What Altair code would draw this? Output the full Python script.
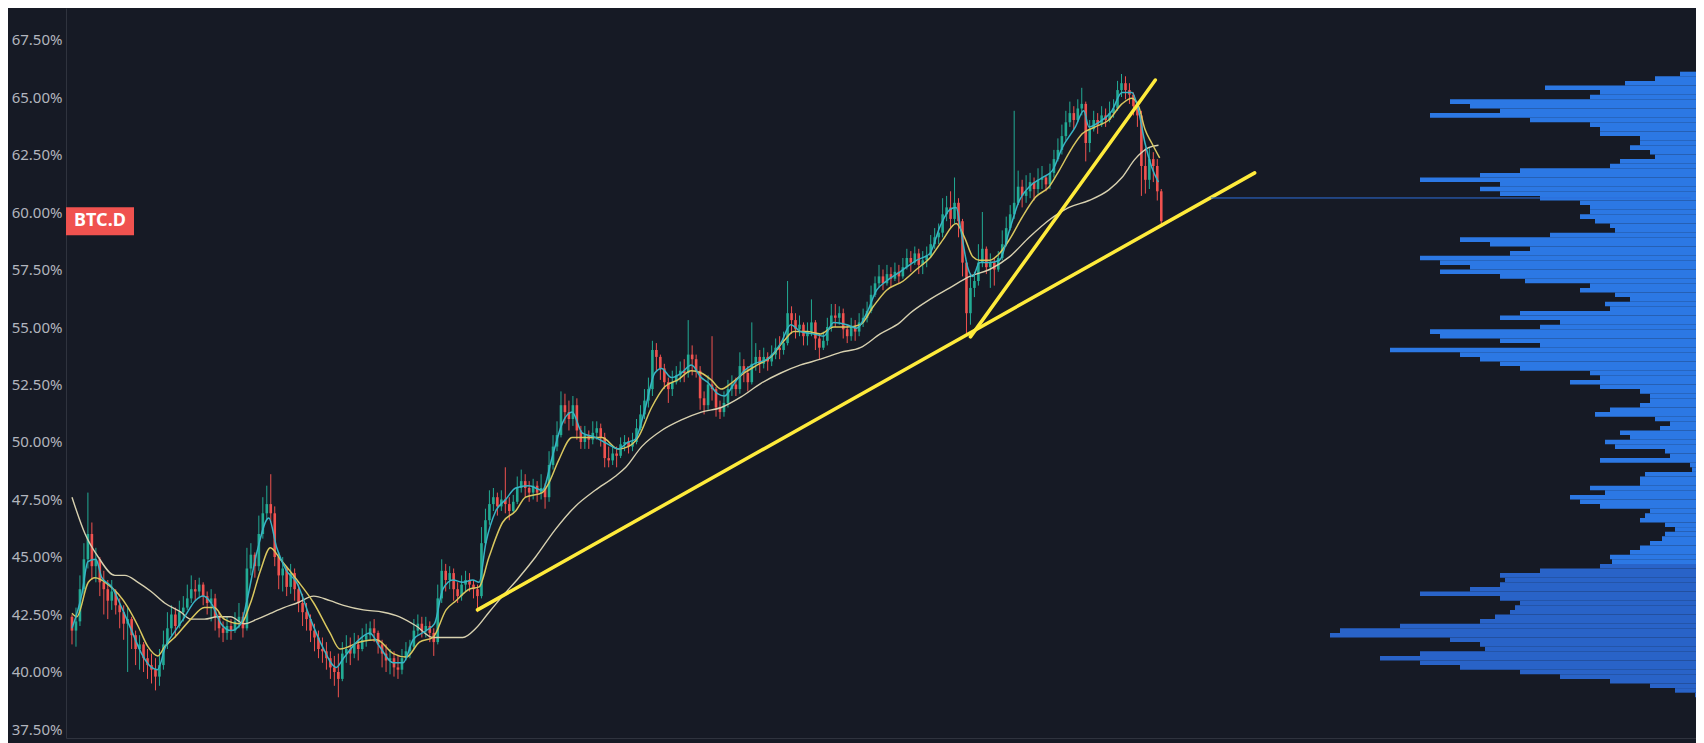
import altair as alt
import pandas as pd

# ---------------- data ----------------
FIRST_OPEN = 42.4

CLOSE = [
    41.8, 42.2, 43.6, 44.9, 46.0, 44.6, 44.9, 43.9, 43.6, 43.1,
    43.5, 42.9, 42.6, 42.1, 42.3, 41.6, 41.0, 41.2, 40.6, 40.3,
    40.1, 39.8, 40.3, 41.2, 41.9, 42.5, 42.0, 42.6, 42.8, 43.2,
    43.6, 43.5, 43.8, 43.3, 43.0, 43.2, 42.4, 41.9, 41.7, 42.0,
    41.8, 42.2, 42.4, 41.9, 44.5, 45.1, 44.6, 46.0, 46.9, 47.3,
    46.9, 45.0, 44.2, 44.5, 43.7, 44.3, 43.6, 43.0, 42.6, 42.3,
    41.8, 41.5, 41.0, 40.9, 40.6, 40.2, 40.0, 39.7, 40.8, 41.0,
    40.8, 41.2, 41.0, 41.4, 41.6, 41.9, 41.7, 41.2, 40.8, 40.5,
    40.6, 40.2, 40.1, 40.6, 40.9, 41.1, 41.8, 42.1, 41.8, 42.0,
    41.7, 41.3, 43.2, 44.4, 44.0, 44.3, 43.6, 43.3, 43.8, 44.0,
    43.8, 43.6, 43.3, 45.6, 46.6, 47.3, 47.6, 47.2, 47.5, 47.3,
    47.0, 47.4, 48.0, 48.3, 48.0, 47.8, 48.1, 47.8, 48.0, 47.6,
    49.0, 49.8, 50.3, 51.6, 51.3, 51.0, 51.6, 50.5, 50.0, 50.3,
    50.1, 50.4, 50.6, 50.2, 49.3, 49.2, 49.5, 49.4, 49.9, 50.0,
    49.8, 50.0, 50.6, 51.2, 51.8, 52.3, 54.0, 53.7, 53.2, 52.6,
    52.3, 52.6, 52.9, 53.1, 53.0, 53.8, 53.6, 53.1, 51.9, 51.6,
    52.5, 52.3, 51.5, 51.3, 51.7, 52.3, 52.5, 52.3, 53.3, 53.0,
    52.6, 53.4, 53.7, 53.4, 53.7, 53.5, 53.8, 54.1, 54.0, 54.3,
    55.6, 55.3, 54.9, 55.1, 54.6, 54.8, 55.2, 54.5, 54.1, 54.4,
    55.0, 55.5, 55.4, 55.6, 54.9, 54.6, 55.0, 54.8, 55.2, 55.4,
    55.7, 56.4, 56.9, 57.2, 56.9, 57.3, 57.1, 57.4, 57.2, 57.6,
    58.0, 57.8, 58.2, 57.7, 57.9, 58.1, 58.6, 58.9, 59.1, 59.9,
    60.2, 59.7, 60.4, 59.6, 57.8, 55.6, 56.7, 57.0, 57.8, 58.4,
    57.6, 57.8, 57.5, 58.0, 58.6, 59.3, 59.9, 60.4, 61.1, 60.7,
    60.9, 61.3, 61.0, 61.4, 61.5, 61.2, 61.7, 62.3, 62.7, 63.3,
    63.9, 64.3, 64.0, 64.5, 64.7, 63.0, 63.6, 64.0, 63.8, 64.2,
    64.0, 64.3, 64.5, 65.3, 65.6, 65.3, 65.1, 64.6, 64.2, 62.0,
    61.4, 62.3, 62.0, 60.9, 59.6,
]

HIGH = [
    42.5, 42.8, 44.2, 45.6, 47.8, 46.5, 45.4, 45.0, 44.4, 44.0,
    44.0, 43.6, 43.2, 42.9, 42.8, 42.4, 41.8, 41.6, 41.3, 41.0,
    40.8, 40.6, 41.0, 41.8, 42.6, 42.9, 42.8, 43.1, 43.3, 43.8,
    44.2, 44.0, 44.1, 43.9, 43.5, 43.6, 43.4, 42.6, 42.2, 42.4,
    42.3, 42.6, 43.0, 42.6, 45.4, 45.6, 45.2, 46.8, 47.6, 48.1,
    48.6, 47.2, 45.2, 45.0, 44.6, 44.7, 44.5, 43.8, 43.4, 43.0,
    42.5, 42.1, 41.8, 41.5, 41.3, 40.9, 40.7, 40.8, 41.3, 41.6,
    41.5, 41.7, 41.6, 41.9, 42.1, 42.2, 42.3, 41.8, 41.4, 41.2,
    41.0, 40.9, 40.7, 41.0, 41.3, 41.4, 42.3, 42.5, 42.4, 42.4,
    42.2, 41.9, 43.8, 44.9, 44.7, 44.6, 44.5, 43.9, 44.2, 44.4,
    44.3, 44.0, 43.8, 46.3, 47.1, 47.9, 48.0, 47.8, 47.9, 48.9,
    47.6, 47.7, 48.5, 48.8, 48.6, 48.3, 48.4, 48.3, 48.6, 48.2,
    49.6, 50.3, 50.9, 52.2, 52.1, 51.8, 52.0, 51.9, 50.7, 50.7,
    50.5, 50.9, 50.9, 50.8, 50.4, 49.8, 49.8, 49.8, 50.2, 50.3,
    50.2, 50.4, 51.0, 51.6, 52.3, 52.8, 54.4, 54.3, 53.8, 53.4,
    52.8, 53.1, 53.3, 53.5, 53.6, 55.3, 54.2, 53.8, 53.3, 52.2,
    52.9, 54.6, 52.4, 51.8, 52.2, 52.7, 52.9, 52.8, 53.9, 53.6,
    53.3, 55.2, 54.3, 54.0, 54.1, 53.9, 54.2, 54.5, 54.6, 54.8,
    57.0, 55.9, 55.6, 55.5, 55.2, 55.2, 56.2, 55.3, 54.7, 54.8,
    55.4, 56.0, 56.0, 55.9, 55.8, 55.1, 55.4, 55.3, 55.6, 55.8,
    56.1, 56.8, 57.2, 57.7, 57.5, 57.7, 57.6, 57.8, 57.7, 58.0,
    58.4, 58.3, 58.5, 58.4, 58.3, 58.5, 59.0, 59.3, 59.5, 60.6,
    60.7, 60.9, 61.5, 60.6, 59.7, 57.9, 57.3, 57.4, 58.6, 60.0,
    58.5, 58.2, 58.0, 58.3, 59.2, 59.8, 60.3, 64.4, 61.8, 61.4,
    61.6, 61.7, 61.5, 61.9, 62.0, 61.6, 62.1, 62.7, 63.2, 63.8,
    64.4, 64.8, 64.6, 64.9, 65.4, 64.8, 64.0, 64.4, 64.3, 64.6,
    64.5, 64.8, 64.9, 65.7, 66.0, 65.9, 65.6, 65.2, 64.8, 64.4,
    62.8, 62.8, 62.6, 62.3, 61.0,
]

LOW = [
    41.2, 41.1, 42.0, 43.4, 44.5, 44.0, 43.9, 43.3, 42.5, 42.3,
    42.7, 42.5, 41.9, 41.4, 40.0, 41.0, 40.3, 40.1, 40.0, 39.7,
    39.5, 39.2, 39.4, 40.1, 41.0, 41.6, 41.5, 41.9, 42.2, 42.7,
    43.0, 43.1, 43.2, 42.9, 42.5, 42.2, 41.8, 41.5, 41.3, 41.4,
    41.4, 41.7, 41.9, 41.5, 41.8, 44.2, 44.1, 44.4, 45.8, 46.6,
    46.5, 44.6, 43.6, 43.5, 43.3, 43.4, 43.1, 42.6, 42.0, 41.8,
    41.3, 40.9, 40.6, 40.4, 40.1, 39.7, 39.4, 38.9, 39.6, 40.4,
    40.3, 40.6, 40.5, 40.9, 41.1, 41.4, 41.3, 40.8, 40.2, 40.0,
    39.9, 39.8, 39.7, 39.9, 40.5, 40.6, 41.0, 41.6, 41.5, 41.5,
    41.3, 40.7, 41.2, 43.0, 43.5, 43.6, 43.1, 43.0, 43.1, 43.5,
    43.5, 43.2, 42.6, 43.2, 45.5, 46.4, 47.0, 46.8, 47.0, 46.9,
    46.6, 46.9, 47.3, 47.8, 47.6, 47.4, 47.5, 47.4, 47.5, 47.1,
    47.4, 48.8, 49.6, 50.2, 50.8, 50.5, 50.7, 50.1, 49.7, 49.7,
    49.7, 49.9, 50.1, 49.8, 48.9, 48.9, 49.0, 48.9, 49.3, 49.6,
    49.5, 49.6, 49.9, 50.5, 51.0, 51.5, 52.0, 53.1, 52.7, 52.3,
    51.7, 52.0, 52.5, 52.6, 52.6, 52.8, 52.9, 52.8, 51.4, 51.2,
    51.4, 51.8, 51.1, 51.0, 51.1, 51.5, 52.0, 52.0, 52.1, 52.6,
    52.2, 52.5, 53.1, 53.0, 53.2, 53.1, 53.3, 53.6, 53.6, 53.8,
    54.2, 54.7, 54.5, 54.6, 54.2, 54.2, 54.6, 54.0, 53.6, 54.0,
    54.2, 54.8, 55.0, 55.1, 54.5, 54.3, 54.4, 54.4, 54.6, 55.0,
    55.2, 55.6, 56.3, 56.7, 56.6, 56.8, 56.7, 57.0, 56.9, 57.1,
    57.5, 57.4, 57.7, 57.3, 57.3, 57.6, 58.0, 58.4, 58.6, 58.9,
    59.6, 59.3, 59.5, 58.9, 57.2, 54.7, 55.1, 56.3, 56.8, 57.6,
    57.3, 56.7, 56.8, 57.4, 57.9, 58.5, 59.2, 59.7, 60.3, 60.2,
    60.4, 60.6, 60.5, 60.8, 61.0, 60.9, 61.0, 61.5, 62.2, 62.5,
    63.1, 63.7, 63.6, 63.9, 64.2, 62.2, 62.6, 63.5, 63.4, 63.7,
    63.7, 63.9, 64.1, 64.4, 65.0, 64.9, 64.7, 64.2, 63.7, 60.7,
    60.8, 61.0, 61.3, 60.5, 59.4,
]

# moving averages (candle index, value)
FAST_IDX = [0, 2.5, 4, 6, 7.5, 10, 12.5, 15, 17.5, 20, 21.5, 23.5, 26, 28, 31, 33, 35, 37.5, 40, 42.5,
            44, 46.5, 49.5, 51.5, 54, 56.5, 60, 63, 66.5, 68.3, 71.6, 74.9, 77.4, 80.8, 83.3, 85.8, 89.1,
            91.2, 93.3, 95.8, 98.3, 100.8, 102.4, 104.1, 106.6, 109.1, 111.6, 114.9, 118.3, 120.8, 123.3,
            125.8, 128.3, 131.6, 134.9, 137.4, 139.9, 141.6, 144.1, 146.6, 148.3, 150.8, 153.3, 155.8,
            158.3, 159.9, 162.4, 164.1, 166.6, 169.1, 171.6, 174.9, 178.3, 180.8, 183.3, 186.6, 189.1,
            191.6, 194.9, 197.4, 199.9, 202.4, 204.9, 208.3, 212.4, 215.8, 218.3, 220.8, 222.4, 223.7,
            225.3, 226.6, 228.3, 230.8, 233.3, 235.8, 238.3, 240.8, 244.1, 246.6, 249.1, 252.4, 254.5,
            255.8, 258.3, 261.6, 264.1, 266.6, 268.3, 269.9, 271.6, 273.3]
FAST_VAL = [41.9, 43.4, 44.8, 44.9, 44.1, 43.7, 42.8, 41.8, 40.8, 40.2, 40.1, 41.1, 41.8, 42.3, 43.1, 43.3,
            43.0, 42.1, 41.8, 42.1, 43.1, 45.2, 46.7, 45.4, 44.4, 43.9, 42.3, 41.1, 40.2, 40.6, 41.3, 41.7,
            41.1, 40.4, 40.4, 41.4, 41.8, 42.1, 43.6, 44.0, 43.9, 44.0, 43.9, 45.6, 47.0, 47.5, 48.0, 48.1,
            47.9, 49.35, 50.8, 51.3, 50.4, 50.2, 49.9, 49.7, 50.0, 50.1, 51.4, 53.0, 53.2, 52.8, 53.0, 53.35,
            52.8, 52.6, 52.1, 52.0, 52.55, 53.1, 53.4, 53.6, 54.3, 55.1, 54.8, 54.7, 54.6, 55.2, 55.1, 54.95,
            55.6, 56.6, 57.0, 57.4, 57.9, 58.2, 59.35, 60.1, 60.2, 59.1, 57.6, 57.2, 57.8, 57.8, 57.9, 59.2,
            60.5, 61.1, 61.5, 61.8, 62.8, 63.7, 64.4, 63.7, 63.9, 64.4, 65.2, 65.2, 64.4, 63.0, 61.95, 61.3]

MID_IDX = [0, 1.2, 4.1, 5.8, 9.1, 11.6, 14.1, 16.6, 19.1, 21.6, 23.3, 25.8, 29.9, 33.3, 35.8, 38.3, 42.4,
           44.9, 47.4, 49.9, 52.4, 56.6, 60.8, 64.9, 67.4, 72.4, 76.6, 80.8, 84.1, 87.4, 90.8, 94.1, 96.6,
           99.9, 102.4, 104.9, 108.3, 111.6, 114.1, 118.3, 119.9, 122.4, 125.8, 129.1, 133.3, 137.4, 139.9,
           142.4, 145.8, 149.1, 152.4, 155.8, 158.3, 160.8, 163.3, 165.8, 169.1, 172.4, 175.8, 179.1,
           181.6, 184.9, 188.3, 191.6, 194.9, 198.3, 201.6, 204.9, 209.1, 212.4, 215.8, 219.1, 222.4,
           224.5, 226.6, 228.3, 230.8, 233.3, 235.8, 239.1, 242.4, 245.8, 248.3, 251.6, 254.1, 257.4,
           260.8, 264.1, 266.6, 268.3, 269.9, 271.6, 273.6]
MID_VAL = [42.55, 42.4, 43.9, 44.1, 43.8, 43.4, 42.8, 42.0, 41.1, 40.7, 41.1, 41.5, 42.3, 42.8, 42.8, 42.3,
           42.1, 43.0, 44.4, 45.4, 44.9, 44.0, 43.0, 41.7, 41.0, 41.3, 41.4, 40.8, 40.65, 41.3, 41.5, 42.7,
           43.1, 43.6, 43.7, 45.0, 46.5, 47.0, 47.6, 47.8, 48.2, 49.2, 50.2, 50.2, 50.2, 49.7, 49.8, 50.2,
           51.5, 52.4, 52.7, 53.1, 53.0, 52.7, 52.3, 52.55, 53.0, 53.35, 53.7, 54.4, 54.8, 54.8, 54.7, 55.0,
           55.0, 55.1, 55.9, 56.6, 57.0, 57.5, 58.0, 58.8, 59.5, 58.9, 58.05, 57.9, 57.9, 58.2, 58.8, 59.8,
           60.65, 61.1, 61.8, 62.8, 63.4, 63.7, 64.0, 64.7, 64.95, 64.6, 63.6, 63.0, 62.35]

LONG_IDX = [0, 3.3, 6.6, 10.8, 13.3, 16.6, 19.9, 23.3, 27.4, 29.9, 33.3, 36.6, 39.9, 43.3, 46.6, 49.9, 53.3,
            56.6, 60.8, 64.9, 68.3, 73.3, 78.3, 82.4, 86.6, 90.8, 94.9, 98.3, 101.6, 104.9, 108.3, 112.4,
            116.6, 121.6, 126.6, 131.6, 136.6, 139.3, 143.3, 148.3, 153.3, 158.3, 163.3, 168.3, 173.3,
            178.3, 183.3, 188.3, 193.3, 198.3, 203.3, 208.3, 210.8, 215.8, 220.8, 225.8, 230.8, 235.8,
            240.8, 245.8, 250.8, 255.8, 260.8, 264.1, 267.4, 270.8, 273.3]
LONG_VAL = [47.6, 46.0, 45.0, 44.2, 44.2, 43.9, 43.5, 43.0, 42.6, 42.3, 42.3, 42.4, 42.4, 42.1, 42.3, 42.55,
            42.8, 43.0, 43.3, 43.1, 42.9, 42.7, 42.6, 42.4, 42.0, 41.5, 41.5, 41.5, 41.9, 42.6, 43.3, 44.1,
            45.0, 46.2, 47.2, 47.9, 48.5, 48.9, 49.8, 50.5, 50.96, 51.3, 51.5, 51.96, 52.55, 53.0, 53.35,
            53.6, 53.9, 54.1, 54.7, 55.2, 55.6, 56.2, 56.7, 57.2, 57.5, 58.05, 58.9, 59.65, 60.2, 60.5,
            60.96, 61.5, 62.3, 62.8, 62.9]

# hand-drawn trend lines (candle index, value)
TREND1_IDX = [102, 297.5]
TREND1_VAL = [42.70, 61.70]
TREND2_IDX = [226, 272.5]
TREND2_VAL = [54.57, 65.74]

# volume profile: rows of 0.2 %, from 66.0 % down to 39.0 %
VP_TOP_CENTER = 66.0
VP_STEP = 0.2
VP_VOL = [
    24, 49, 79, 159, 104, 114, 254, 234, 204, 274,
    174, 114, 104, 104, 64, 64, 74, 54, 49, 84,
    94, 184, 224, 284, 204, 224, 204, 164, 124, 114,
    114, 124, 109, 94, 89, 154, 244, 214, 174, 194,
    284, 264, 234, 264, 204, 179, 114, 124, 89, 74,
    99, 94, 184, 204, 144, 164, 274, 264, 204, 164,
    314, 244, 224, 204, 184, 114, 104, 134, 104, 64,
    54, 54, 64, 94, 109, 49, 34, 44, 84, 74,
    99, 89, 39, 34, 104, 14, 12, 59, 64, 64,
    114, 99, 134, 124, 104, 54, 59, 64, 39, 29,
    39, 42, 54, 64, 74, 94, 92, 104, 164, 204,
    199, 204, 234, 284, 204, 184, 189, 194, 209, 224,
    304, 364, 374, 254, 224, 219, 284, 324, 284, 244,
    184, 144, 94, 54, 29, 9,
]
VALUE_AREA_SPLIT = 44.7
POC_PRICE = 60.61
POC_FROM_IDX = 286.5

TICKS = [37.5, 40.0, 42.5, 45.0, 47.5, 50.0, 52.5, 55.0, 57.5, 60.0, 62.5, 65.0, 67.5]
SYMBOL = "BTC.D"

# ---------------- styling ----------------
BG = "#161a25"
FRAME = "#2f333e"
UP = "#22ab94"
DOWN = "#f0524f"
FAST_C = "#37b5c6"
MID_C = "#d9c75f"
LONG_C = "#d8d1b0"
TREND_C = "#ffeb3b"
VP_UP = "#2c78e4"
VP_LOW = "#2963c8"
POC_C = "#2e6fdc"
LABEL_C = "#b2b5be"
FONT = "Noto Sans"

LEFT = 58
W, H = 1630, 730
PX_PER_BAR = 4.0
X_DOMAIN = [-0.25, -0.25 + W / PX_PER_BAR]
Y_DOMAIN = [37.1304, 68.8696]

# ---------------- tables ----------------
N = len(CLOSE)
opens = [FIRST_OPEN] + CLOSE[:-1]
candles = pd.DataFrame({"bar": list(range(N)), "open": opens, "high": HIGH,
                        "low": LOW, "close": CLOSE})

fast_df = pd.DataFrame({"bar": FAST_IDX, "val": FAST_VAL[:len(FAST_IDX)]})
mid_df = pd.DataFrame({"bar": MID_IDX, "val": MID_VAL[:len(MID_IDX)]})
long_df = pd.DataFrame({"bar": LONG_IDX, "val": LONG_VAL[:len(LONG_IDX)]})

trend_df = pd.DataFrame({
    "bar": TREND1_IDX + TREND2_IDX,
    "val": TREND1_VAL + TREND2_VAL,
    "line": ["a", "a", "b", "b"],
})

vp_rows = []
for k, v in enumerate(VP_VOL):
    c = VP_TOP_CENTER - VP_STEP * k
    vp_rows.append({"lo": c - VP_STEP / 2, "hi": c + VP_STEP / 2, "vol": v, "zero": 0,
                    "low_zone": c < VALUE_AREA_SPLIT})
vp_df = pd.DataFrame(vp_rows)

poc_df = pd.DataFrame({"x0": [POC_FROM_IDX], "x1": [X_DOMAIN[1]], "val": [POC_PRICE]})

last = CLOSE[-1]
label_df = pd.DataFrame({"top": [last + 0.61], "bot": [last - 0.61], "val": [last], "name": [SYMBOL]})

# ---------------- scales / axes ----------------
xs = alt.Scale(domain=X_DOMAIN, nice=False, zero=False)
ys = alt.Scale(domain=Y_DOMAIN, nice=False, zero=False)

Y_AXIS = alt.Axis(values=TICKS, labelExpr="format(datum.value, '.2f') + '%'", grid=False,
                  ticks=False, tickSize=0, domain=True, domainColor=FRAME, domainWidth=1,
                  labelColor=LABEL_C, labelFontSize=15, labelFont=FONT, labelPadding=4,
                  title=None)
X_AXIS = alt.Axis(labels=False, ticks=False, tickSize=0, grid=False, domain=True,
                  domainColor=FRAME, domainWidth=1, title=None)


def X(f):
    return alt.X(f"{f}:Q", scale=xs, axis=X_AXIS)


def Y(f):
    return alt.Y(f"{f}:Q", scale=ys, axis=Y_AXIS)


updown = alt.condition("datum.close >= datum.open", alt.value(UP), alt.value(DOWN))

wicks = alt.Chart(candles).mark_rule(strokeWidth=1).encode(
    x=X("bar"), y=Y("low"), y2="high", color=updown)
bodies = alt.Chart(candles).mark_bar(width=2.6).encode(
    x=X("bar"), y=Y("open"), y2="close", color=updown)

long_line = alt.Chart(long_df).mark_line(color=LONG_C, strokeWidth=1.4, interpolate="monotone").encode(
    x=X("bar"), y=Y("val"))
mid_line = alt.Chart(mid_df).mark_line(color=MID_C, strokeWidth=1.5, interpolate="monotone").encode(
    x=X("bar"), y=Y("val"))
fast_line = alt.Chart(fast_df).mark_line(color=FAST_C, strokeWidth=1.5, interpolate="monotone").encode(
    x=X("bar"), y=Y("val"))

trend = alt.Chart(trend_df).mark_line(color=TREND_C, strokeWidth=3.5, strokeCap="round").encode(
    x=X("bar"), y=Y("val"), detail="line:N")

poc = alt.Chart(poc_df).mark_rule(color=POC_C, strokeWidth=1).encode(
    x=X("x0"), x2="x1", y=Y("val"))

label_box = alt.Chart(label_df).mark_rect(color="#f0524f").encode(
    x=alt.value(0), x2=alt.value(68), y=Y("top"), y2="bot")
label_text = alt.Chart(label_df).mark_text(color="white", font=FONT, fontSize=18,
                                           fontWeight="bold", align="center",
                                           baseline="middle").encode(
    x=alt.value(34), y=Y("val"), text="name:N")

# volume axis: the profile hangs from the window's right edge (8 px beyond the plot)
vp = alt.Chart(vp_df).mark_rect(clip=True).encode(
    x=alt.X("vol:Q", scale=alt.Scale(domain=[8, W + 8], reverse=True, nice=False, zero=False),
            axis=None),
    x2="zero:Q",
    y=Y("lo"), y2="hi",
    color=alt.condition("datum.low_zone", alt.value(VP_LOW), alt.value(VP_UP)),
)

main = alt.layer(wicks, bodies, long_line, mid_line, fast_line, trend, poc, label_box, label_text)

chart = alt.layer(vp, main).resolve_scale(x="independent").properties(
    width=W, height=H, background=BG,
    padding={"left": LEFT, "top": 0, "right": 0, "bottom": 5},
    autosize=alt.AutoSizeParams(type="none"),
).configure_view(stroke=None)

chart.save("out.html", embed_options={"renderer": "svg", "actions": False})
